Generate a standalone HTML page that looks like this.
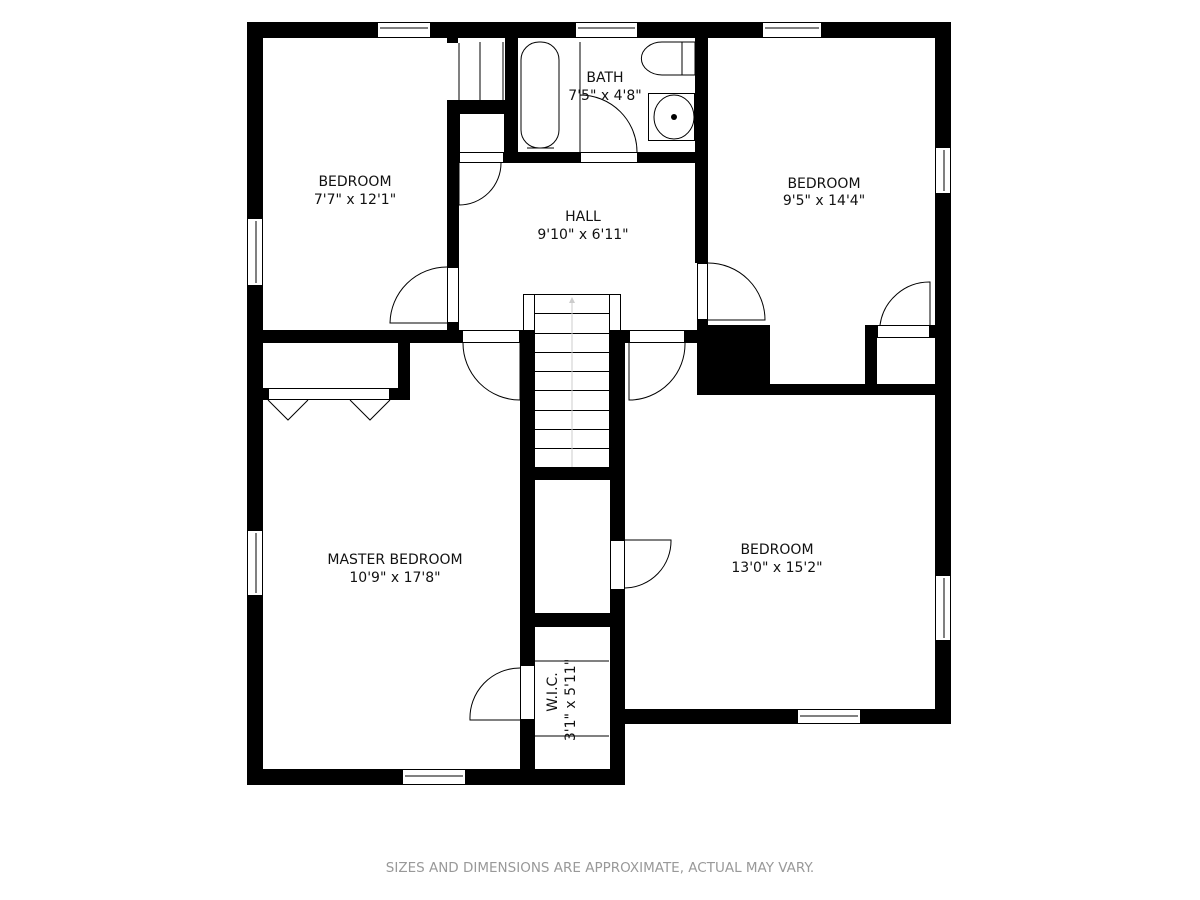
<!DOCTYPE html>
<html><head><meta charset="utf-8"><style>
html,body{margin:0;padding:0;background:#fff;width:1200px;height:900px;overflow:hidden}
svg{display:block}
text{font-family:"DejaVu Sans","Liberation Sans",sans-serif;fill:#111}
</style></head><body>
<svg width="1200" height="900" viewBox="0 0 1200 900" xmlns="http://www.w3.org/2000/svg">
<g fill="#000">
<rect x="247" y="22" width="704" height="16"/>
<rect x="247" y="22" width="16" height="763"/>
<rect x="935" y="22" width="16" height="702"/>
<rect x="610" y="709" width="341" height="15"/>
<rect x="247" y="769" width="378" height="16"/>
<rect x="610" y="343" width="15" height="442"/>
<rect x="447" y="100" width="12" height="243"/>
<rect x="447" y="100" width="71" height="13"/>
<rect x="505" y="38" width="13" height="125"/>
<rect x="447" y="38" width="11" height="5"/>
<rect x="459" y="152" width="238" height="11"/>
<rect x="695" y="38" width="13" height="225"/>
<rect x="697" y="320" width="11" height="10"/>
<rect x="697" y="325" width="73" height="70"/>
<rect x="697" y="384" width="254" height="11"/>
<rect x="865" y="325" width="12" height="70"/>
<rect x="865" y="325" width="12" height="13"/>
<rect x="930" y="325" width="8" height="13"/>
<rect x="247" y="330" width="215" height="13"/>
<rect x="520" y="330" width="15" height="455"/>
<rect x="609" y="330" width="20" height="13"/>
<rect x="685" y="330" width="14" height="13"/>
<rect x="398" y="343" width="12" height="57"/>
<rect x="390" y="388" width="20" height="12"/>
<rect x="263" y="388" width="5" height="12"/>
<rect x="609" y="330" width="16" height="150"/>
<rect x="520" y="467" width="105" height="13"/>
<rect x="520" y="613" width="105" height="14"/>
</g>
<g fill="#fff">
<rect x="580" y="152" width="58" height="11"/>
<rect x="459" y="152" width="44" height="11"/>
<rect x="447" y="267" width="12" height="56"/>
<rect x="697" y="263" width="11" height="57"/>
<rect x="877" y="325" width="53" height="13"/>
<rect x="610" y="540" width="15" height="50"/>
<rect x="520" y="665" width="15" height="55"/>
<rect x="535" y="330" width="74" height="137"/>
<rect x="462" y="330" width="58" height="13"/>
<rect x="629" y="330" width="56" height="13"/>
<rect x="268" y="388" width="122" height="12"/>
</g>
<g fill="none" stroke="#000" stroke-width="1">
<rect x="580.5" y="152.5" width="57" height="10"/>
<rect x="459.5" y="152.5" width="44" height="10"/>
<rect x="447.5" y="267.5" width="11" height="55"/>
<rect x="697.5" y="263.5" width="10" height="56"/>
<rect x="877.5" y="325.5" width="52" height="12"/>
<rect x="610.5" y="540.5" width="14" height="49"/>
<rect x="520.5" y="665.5" width="14" height="54"/>
<rect x="462.5" y="330.5" width="57" height="12"/>
<rect x="629.5" y="330.5" width="55" height="12"/>
<rect x="268.5" y="388.5" width="121" height="11"/>
<path d="M459 163 V205 A42 42 0 0 0 501 163"/>
<path d="M580 152 V95 A57 57 0 0 1 637 152"/>
<path d="M447 323 H390 A57 57 0 0 1 447 267"/>
<path d="M520 343 V400 A57 57 0 0 1 463 343"/>
<path d="M629 343 V400 A56 56 0 0 0 685 343"/>
<path d="M708 320 H765 A57 57 0 0 0 708 263"/>
<path d="M930 325 V282 A50 50 0 0 0 880 325"/>
<path d="M625 540 H671 A47 47 0 0 1 625 588"/>
<path d="M520 720 H470 A50 50 0 0 1 520 668"/>
<path d="M268 400 L288 420 L308 400 M350 400 L370 420 L390 400"/>
<rect x="523.5" y="294.5" width="11" height="36"/>
<rect x="609.5" y="294.5" width="11" height="36"/>
<line x1="535" y1="294.5" x2="609" y2="294.5"/>
<path d="M535 313.5H609M535 333.5H609M535 352.5H609M535 371.5H609M535 390.5H609M535 410.5H609M535 429.5H609M535 448.5H609"/>
<line x1="572" y1="300" x2="572" y2="467" stroke="#ccc"/>
<path d="M480 42V100M503 42V100M459 43V100"/>
<rect x="459.5" y="113.5" width="45" height="39"/>
<path d="M535 661H609M535 736H609"/>
<rect x="521" y="42" width="38" height="106" rx="18"/>
<path d="M527 148H554M580 42V135"/>
<path d="M682 42H695V75H682ZM682 42H662A20 16 0 0 0 662 75H682"/>
<rect x="648.5" y="93.5" width="46" height="47"/>
<ellipse cx="674" cy="117" rx="20" ry="22"/>
</g>
<circle cx="674" cy="117" r="3" fill="#000"/>
<polygon points="569,303 575,303 572,297" fill="#ccc"/>
<g fill="#fff" stroke="#000" stroke-width="1">
<rect x="377.5" y="22.5" width="53" height="15"/><line x1="380" y1="28" x2="428" y2="28"/>
<rect x="575.5" y="22.5" width="62" height="15"/><line x1="578" y1="28" x2="635" y2="28"/>
<rect x="762.5" y="22.5" width="59" height="15"/><line x1="765" y1="28" x2="819" y2="28"/>
<rect x="935.5" y="147.5" width="15" height="46"/><line x1="944" y1="150" x2="944" y2="191"/>
<rect x="247.5" y="218.5" width="15" height="67"/><line x1="256" y1="221" x2="256" y2="283"/>
<rect x="247.5" y="530.5" width="15" height="65"/><line x1="256" y1="533" x2="256" y2="593"/>
<rect x="935.5" y="575.5" width="15" height="65"/><line x1="944" y1="578" x2="944" y2="638"/>
<rect x="797.5" y="709.5" width="63" height="14"/><line x1="800" y1="716" x2="858" y2="716"/>
<rect x="402.5" y="769.5" width="63" height="15"/><line x1="405" y1="776" x2="463" y2="776"/>
</g>
<g font-size="14" text-anchor="middle">
<text x="355" y="186">BEDROOM</text><text x="355" y="204">7'7" x 12'1"</text>
<text x="605" y="82">BATH</text><text x="605" y="100">7'5" x 4'8"</text>
<text x="583" y="221">HALL</text><text x="583" y="239">9'10" x 6'11"</text>
<text x="824" y="188">BEDROOM</text><text x="824" y="205">9'5" x 14'4"</text>
<text x="395" y="564">MASTER BEDROOM</text><text x="395" y="582">10'9" x 17'8"</text>
<text x="777" y="554">BEDROOM</text><text x="777" y="572">13'0" x 15'2"</text>
<text transform="translate(557,692) rotate(-90)">W.I.C.</text>
<text transform="translate(575,700) rotate(-90)">3'1" x 5'11"</text>
</g>
<text x="600" y="872" text-anchor="middle" font-size="13.5" style="fill:#999">SIZES AND DIMENSIONS ARE APPROXIMATE, ACTUAL MAY VARY.</text>
</svg>
</body></html>
